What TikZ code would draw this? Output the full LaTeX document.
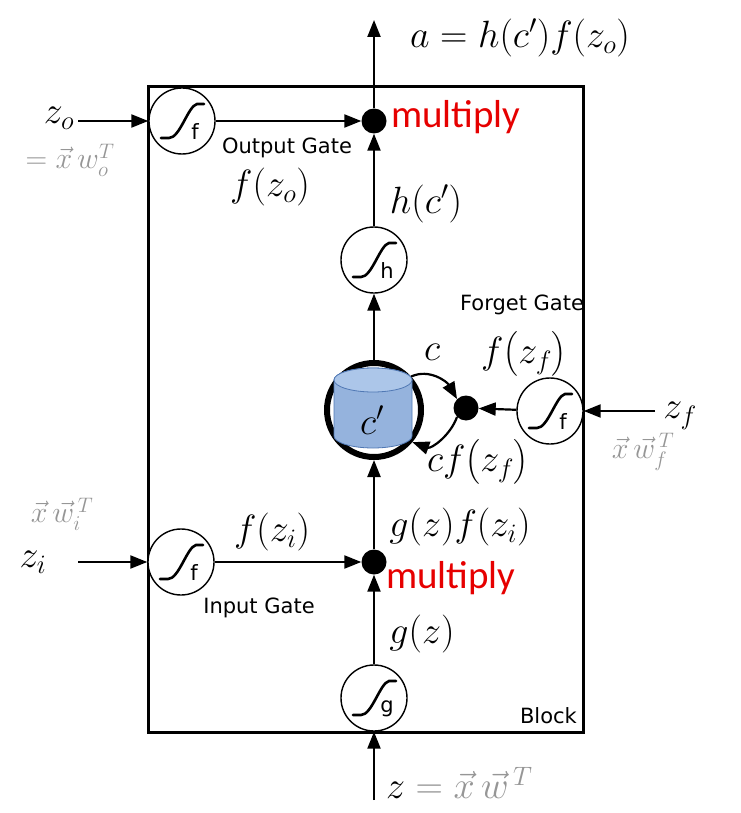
\RequirePackage{fix-cm}
\documentclass[tikz,border=0pt]{standalone}
\usepackage{amsmath}
\usepackage{fontspec}
\newfontfamily\dejavu{DejaVu Sans}
\newfontfamily\carlito{Carlito}
\usetikzlibrary{arrows.meta}
\definecolor{mred}{RGB}{230,0,0}
\definecolor{hand}{RGB}{150,150,150}
\definecolor{cylfill}{RGB}{149,179,221}
\definecolor{cyltop}{RGB}{172,198,233}
\definecolor{cylline}{RGB}{80,120,180}
\begin{document}
\begin{tikzpicture}[x=1pt,y=-1pt,
  arr/.style={line width=2.2pt, -{Triangle[length=17pt,width=13pt]}},
  gate/.style={circle, draw, fill=white, line width=1.4pt, minimum size=66pt, inner sep=0pt,
     path picture={
       \draw[line width=2.6pt,line cap=round] ([shift={(-21pt,-17pt)}]path picture bounding box.center) -- ++(8pt,0pt) .. controls +(11pt,0pt) and +(-9pt,-2pt) .. ++(28pt,34pt) -- ++(7pt,0pt);
       \node[font=\dejavu\fontsize{21}{21}\selectfont, inner sep=0pt] at ([shift={(13pt,-11pt)}]path picture bounding box.center) {#1};}},
  dot/.style={circle, fill, minimum size=25pt, inner sep=0pt},
  mth/.style={font=\fontsize{38}{42}\selectfont, inner sep=0pt},
  lbl/.style={font=\dejavu\fontsize{21}{23}\selectfont, inner sep=0pt},
  mul/.style={font=\carlito\fontsize{39}{41}\selectfont, text=mred, inner sep=0pt},
  hw/.style={font=\fontsize{30}{32}\selectfont, text=hand, inner sep=0pt}
]
\useasboundingbox (0,0) rectangle (740,813);

% block
\node[draw, line width=3pt, minimum width=435pt, minimum height=645pt, inner sep=0pt] (block) at (365.5,409.5) {};
\node[lbl, anchor=east] (blocklbl) at (577,716) {Block};

% gates
\node[gate=f] (og) at (182,121) {};
\node[gate=h] (hg) at (374,260) {};
\node[gate=f] (fg) at (550,411) {};
\node[gate=f] (ig) at (181,562) {};
\node[gate=g] (gg) at (374,698) {};

% multiply dots
\node[dot] (od) at (374,121) {};
\node[dot] (fd) at (466,408) {};
\node[dot] (id) at (374,562) {};

% cell
\node[circle, draw, line width=6pt, minimum size=94pt, inner sep=0pt] (cell) at (374,410) {};
\path[fill=cylfill, draw=cylline, line width=0.8pt] (334,380) -- (334,436) arc[start angle=180, end angle=360, x radius=39pt, y radius=12pt] -- (412,380) arc[start angle=0, end angle=180, x radius=39pt, y radius=12pt] -- cycle;
\draw[fill=cyltop, draw=cylline, line width=0.8pt] (373,380) ellipse [x radius=39pt, y radius=12pt];
\node[mth] (cl) at (372,420) {$c'$};

% coordinates
\coordinate (top) at (374,20);
\coordinate (zoin) at (78,121);
\coordinate (ziin) at (78,562);
\coordinate (zfin) at (655,411);
\coordinate (zin) at (374,800);

% connectors
\draw[arr] (gg) -- (id);
\draw[arr] (ig) -- (id);
\draw[arr] (id) -- (cell);
\draw[arr] (cell) -- (hg);
\draw[arr] (hg) -- (od);
\draw[arr] (og) -- (od);
\draw[arr] (od) -- (top);
\draw[arr] (zoin) -- (og);
\draw[arr] (ziin) -- (ig);
\draw[arr] (zfin) -- (fg);
\draw[arr] (fg) -- (fd);
\draw[arr] (zin) -- (gg);
\draw[arr] (cell.42) to[out=25,in=120] (fd.135);
\draw[arr] (fd.225) to[out=250,in=-20] (cell.-40);

% labels
\node[mth] (aout) at (520,38) {$a=h(c')f(z_o)$};
\node[mth] (zo) at (59,118) {$z_o$};
\node[hw] (hwo) at (70,160) {$=\vec{x}\,w_o^{T}$};
\node[lbl] (ogl) at (287,148) {Output Gate};
\node[mth] (fzo) at (270,187) {$f(z_o)$};
\node[mul, anchor=west] (mul1) at (391,117) {multiply};
\node[mth] (hc) at (426,204) {$h(c')$};
\node[lbl] (fgl) at (522,305) {Forget Gate};
\node[mth] (cc) at (432,352) {$c$};
\node[mth] (fzf) at (524,354) {$f\bigl(z_f\bigr)$};
\node[mth] (zf) at (680,416) {$z_f$};
\node[hw] (hwf) at (643,452) {$\vec{x}\,\vec{w}_f^{\,T}$};
\node[mth] (cfzf) at (478,462) {$cf\bigl(z_f\bigr)$};
\node[hw] (hwi) at (62,514) {$\vec{x}\,\vec{w}_i^{\,T}$};
\node[mth] (fzi) at (272,532) {$f(z_i)$};
\node[mth] (gzfzi) at (460,527) {$g(z)f(z_i)$};
\node[mth] (zi) at (33,562) {$z_i$};
\node[mul, anchor=west] (mul2) at (386,578) {multiply};
\node[lbl] (igl) at (259,608) {Input Gate};
\node[mth] (gz) at (422,634) {$g(z)$};
\node[mth, anchor=west] (zlbl) at (386,783) {$z\textcolor{hand}{\;=\vec{x}\,\vec{w}^{\,T}}$};
\end{tikzpicture}
\end{document}
